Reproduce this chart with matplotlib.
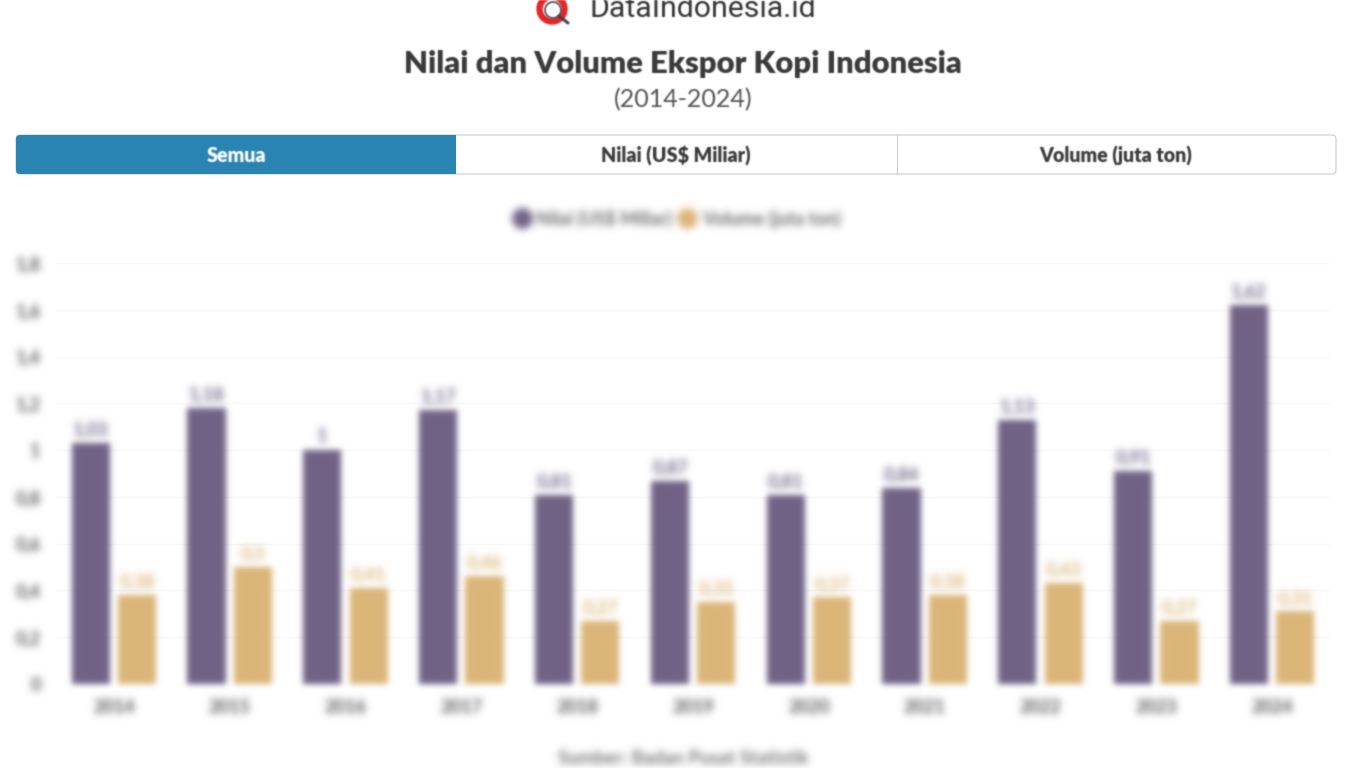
import numpy as np
import matplotlib
matplotlib.use('Agg')
import matplotlib.pyplot as plt
from matplotlib.lines import Line2D
from matplotlib.patches import Circle, FancyBboxPatch, Rectangle, Wedge

# data
years = ['2014', '2015', '2016', '2017', '2018', '2019', '2020', '2021', '2022', '2023', '2024']
nilai = [1.03, 1.18, 1.0, 1.17, 0.81, 0.87, 0.81, 0.84, 1.13, 0.91, 1.62]
volume = [0.38, 0.50, 0.41, 0.46, 0.27, 0.35, 0.37, 0.38, 0.43, 0.27, 0.31]
y_ticks = [0, 0.2, 0.4, 0.6, 0.8, 1.0, 1.2, 1.4, 1.6, 1.8]
tab_labels = ['Semua', 'Nilai (US$ Miliar)', 'Volume (juta ton)']

UNGU = '#6f6285'
EMAS = '#dbb578'
BIRU = '#2a84b2'

plt.rcParams['font.family'] = ['Lato', 'DejaVu Sans']


def fmt(v):
    # angka gaya Indonesia, koma sebagai desimal
    return f'{v:.2f}'.rstrip('0').rstrip('.').replace('.', ',')


def gauss(sigma):
    # filter blur untuk agg_filter
    r = int(3 * sigma) + 1
    k = np.exp(-0.5 * (np.arange(-r, r + 1) / sigma) ** 2)
    k = k / k.sum()

    def f(img, dpi):
        a = np.pad(img, ((r, r), (r, r), (0, 0)))
        # premultiplied supaya tepi tidak jadi gelap
        a[..., :3] *= a[..., 3:4]
        a = np.apply_along_axis(np.convolve, 0, a, k, mode='same')
        a = np.apply_along_axis(np.convolve, 1, a, k, mode='same')
        al = np.clip(a[..., 3:4], 1e-4, None)
        a[..., :3] = np.clip(a[..., :3] / al, 0, 1)
        return a, -r, -r
    return f


blur = gauss(3.0)
blur_teks = gauss(3.8)
halus = gauss(0.7)

fig = plt.figure(figsize=(13.66, 7.68), dpi=100, facecolor='white')

# ---------- header, koordinat piksel ----------
top = fig.add_axes([0, 0, 1, 1])
top.set_xlim(0, 1366)
top.set_ylim(768, 0)
top.axis('off')

top.add_patch(Wedge((552, 9), 15, 0, 360, width=5, color='#e8232b', agg_filter=halus))
top.add_patch(Circle((553, 10), 8, fc='white', ec='#444444', lw=1.2, agg_filter=halus))
top.plot([559, 568], [16, 23], color='#444444', lw=2.2, solid_capstyle='round', agg_filter=halus)
top.text(590, 9, 'DataIndonesia.id', fontsize=21.8, color='#333333', va='center', ha='left',
         family=['Roboto', 'DejaVu Sans'], agg_filter=halus)

top.text(683, 64, 'Nilai dan Volume Ekspor Kopi Indonesia', fontsize=22.35, fontweight='heavy',
         color='#3a3a3a', ha='center', va='center', agg_filter=halus)
top.text(683, 100, '(2014-2024)', fontsize=18, color='#555555', ha='center', va='center', agg_filter=halus)

top.add_patch(FancyBboxPatch((16, 135), 1320, 39, boxstyle='round,pad=0,rounding_size=4',
                             fc='white', ec='#cccccc', lw=0.8))
top.add_patch(FancyBboxPatch((16, 135), 100, 39, boxstyle='round,pad=0,rounding_size=4',
                             fc=BIRU, ec='none'))
top.add_patch(Rectangle((30, 135), 426, 39, fc=BIRU, ec='none'))
top.plot([897, 897], [135, 174], color='#cccccc', lw=0.8)
for lab, cx, warna in zip(tab_labels, [236, 676, 1116], ['white', '#3a3a3a', '#3a3a3a']):
    top.text(cx, 156, lab, fontsize=14.1, fontweight='heavy', color=warna, ha='center', va='center', agg_filter=halus)

top.text(683, 758, 'Sumber: Badan Pusat Statistik', fontsize=13.5, fontweight='bold', color='#777777',
         ha='center', va='center', agg_filter=blur_teks)

# ---------- grafik ----------
ax = fig.add_axes([56 / 1366, 84 / 768, 1274 / 1366, 421 / 768])
ax.patch.set_alpha(0)
x = np.arange(len(years))
b1 = ax.bar(x - 0.2, nilai, 0.33, color=UNGU, zorder=3)
b2 = ax.bar(x + 0.2, volume, 0.33, color=EMAS, zorder=3)
for b in list(b1) + list(b2):
    b.set_agg_filter(blur)

for xi, a, c in zip(x, nilai, volume):
    ax.text(xi - 0.2, a + 0.02, fmt(a), fontsize=13, fontweight='bold', color=UNGU,
            ha='center', va='bottom', agg_filter=blur_teks)
    ax.text(xi + 0.2, c + 0.02, fmt(c), fontsize=13, fontweight='bold', color=EMAS,
            ha='center', va='bottom', agg_filter=blur_teks)

ax.set_xlim(-0.5, len(years) - 0.5)
ax.set_ylim(0, 1.8)
ax.set_xticks(x, years)
ax.set_yticks(y_ticks, [fmt(v) for v in y_ticks])
ax.tick_params(length=0, labelsize=13, labelcolor='#555555', pad=11)
ax.tick_params(axis='x', pad=11)
for t in ax.get_xticklabels() + ax.get_yticklabels():
    t.set_agg_filter(blur_teks)
    t.set_fontweight('bold')
ax.grid(axis='y', color='#f8f8f8', lw=1, zorder=0)
for s in ax.spines.values():
    s.set_visible(False)

handles = [Line2D([], [], marker='o', ls='', ms=14, color=UNGU),
           Line2D([], [], marker='o', ls='', ms=14, color=EMAS)]
leg = ax.legend(handles, tab_labels[1:], ncol=2, frameon=False, labelcolor='#666666',
                prop={'size': 13, 'weight': 'bold'},
                loc='center', bbox_to_anchor=(0.4835, (684 - 218) / 421), bbox_transform=ax.transAxes,
                handletextpad=-0.2, columnspacing=-0.15)
leg.set_agg_filter(blur_teks)

fig.savefig('out.png', dpi=100)
